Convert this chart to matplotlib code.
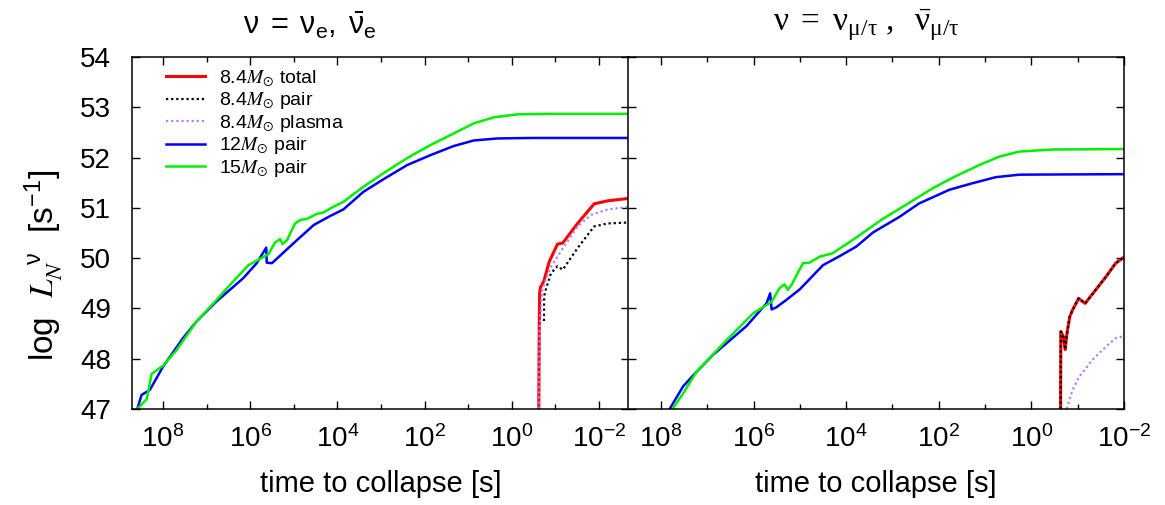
import numpy as np
import matplotlib
matplotlib.use('Agg')
import matplotlib.pyplot as plt
from matplotlib.ticker import FixedLocator, FuncFormatter, NullFormatter

plt.rcParams['font.family'] = ['Liberation Sans', 'DejaVu Sans']
plt.rcParams['mathtext.fontset'] = 'stix'

# ---- data: log10(time to collapse [s]) and log L_N ----
# left panel (nu_e, anti-nu_e)
e_12_lt = [8.75, 8.59, 8.49, 8.30, 8.00, 7.54, 7.23, 6.77, 6.16, 5.85, 5.63, 5.62, 5.50, 5.00, 4.54, 4.16, 3.86,
           3.40, 2.94, 2.40, 1.86, 1.33, 0.87, 0.33, -0.44, -2.70]
e_12_L = [46.75, 47.00, 47.28, 47.38, 47.84, 48.41, 48.74, 49.14, 49.60, 49.90, 50.21, 49.91, 49.90, 50.30, 50.66,
          50.84, 50.97, 51.32, 51.57, 51.85, 52.05, 52.23, 52.34, 52.38, 52.39, 52.39]
e_15_lt = [8.75, 8.59, 8.37, 8.26, 8.00, 7.69, 7.23, 6.77, 6.46, 6.04, 5.85, 5.58, 5.43, 5.31, 5.26, 5.16, 4.97,
           4.85, 4.70, 4.47, 4.31, 4.16, 3.86, 3.40, 2.94, 2.40, 1.86, 1.33, 0.87, 0.41, -0.13, -0.82, -2.70]
e_15_L = [46.75, 47.00, 47.20, 47.70, 47.86, 48.17, 48.74, 49.17, 49.47, 49.86, 49.95, 50.08, 50.31, 50.38, 50.28,
          50.35, 50.69, 50.76, 50.78, 50.88, 50.91, 50.99, 51.12, 51.42, 51.69, 51.99, 52.25, 52.48, 52.68, 52.80,
          52.86, 52.87, 52.87]
e_84tot_lt = [-0.620, -0.630, -0.640, -0.66, -0.68, -0.74, -0.86, -1.05, -1.17, -1.51, -1.89, -2.20, -2.70]
e_84tot_L = [46.8, 48.5, 49.3, 49.42, 49.45, 49.55, 49.93, 50.28, 50.30, 50.69, 51.08, 51.14, 51.19]
e_84pair_lt = [-0.740, -0.745, -0.78, -0.90, -1.05, -1.17, -1.51, -1.89, -2.20, -2.70]
e_84pair_L = [48.75, 49.25, 49.37, 49.70, 49.84, 49.77, 50.20, 50.63, 50.69, 50.71]
e_84pla_lt = [-0.625, -0.640, -0.70, -0.78, -0.90, -1.05, -1.20, -1.51, -1.82, -2.20, -2.70]
e_84pla_L = [46.8, 48.6, 49.35, 49.57, 49.83, 50.03, 50.23, 50.63, 50.86, 50.97, 51.02]

# right panel (nu_mu/tau, anti-nu_mu/tau)
x_12_lt = [8.00, 7.81, 7.52, 7.23, 6.87, 6.15, 5.72, 5.64, 5.61, 5.51, 5.29, 5.00, 4.50, 4.14, 3.78, 3.42, 2.85,
           2.42, 1.77, 1.27, 0.77, 0.26, -2.00]
x_12_L = [46.65, 47.00, 47.45, 47.74, 48.08, 48.65, 49.10, 49.30, 48.98, 49.02, 49.17, 49.38, 49.86, 50.04, 50.23,
          50.51, 50.82, 51.09, 51.36, 51.49, 51.61, 51.66, 51.67]
x_15_lt = [8.00, 7.75, 7.52, 7.23, 6.58, 6.01, 5.61, 5.44, 5.33, 5.26, 5.18, 4.93, 4.79, 4.57, 4.36, 4.29, 3.86,
           3.21, 2.78, 2.13, 1.70, 1.13, 0.69, 0.26, -0.45, -2.00]
x_15_L = [46.55, 47.00, 47.31, 47.74, 48.37, 48.90, 49.13, 49.40, 49.48, 49.37, 49.47, 49.90, 49.91, 50.03, 50.08,
          50.10, 50.36, 50.78, 51.02, 51.39, 51.60, 51.85, 52.02, 52.12, 52.16, 52.17]
x_84tot_lt = [-0.630, -0.636, -0.69, -0.73, -0.76, -0.78, -0.83, -0.89, -1.02, -1.16, -1.39, -1.61, -1.82, -2.00]
x_84tot_L = [46.8, 48.54, 48.44, 48.18, 48.44, 48.57, 48.84, 48.97, 49.20, 49.10, 49.37, 49.63, 49.90, 50.02]
x_84pair_lt = x_84tot_lt
x_84pair_L = x_84tot_L
x_84pla_lt = [-0.74, -0.76, -0.89, -1.03, -1.32, -1.61, -1.82, -2.00]
x_84pla_L = [46.7, 47.00, 47.38, 47.64, 47.98, 48.24, 48.41, 48.45]

xlims = [(10**8.71, 10**-2.69), (10**8.71, 1e-2)]

red = '#ff0000'
purple = '#b080ff'
blue = '#0000ff'
green = '#00f000'

fig = plt.figure(figsize=(11.65, 5.05), dpi=100)
ax1 = fig.add_axes([132/1165, 96/505, 497/1165, 352/505])
ax2 = fig.add_axes([628/1165, 96/505, 496/1165, 352/505])

panels = [
    (ax1, e_84tot_lt, e_84tot_L, e_84pair_lt, e_84pair_L, e_84pla_lt, e_84pla_L, e_12_lt, e_12_L, e_15_lt, e_15_L),
    (ax2, x_84tot_lt, x_84tot_L, x_84pair_lt, x_84pair_L, x_84pla_lt, x_84pla_L, x_12_lt, x_12_L, x_15_lt, x_15_L),
]

for i, (ax, tlt, tL, plt_, pL, qlt, qL, blt, bL, glt, gL) in enumerate(panels):
    ax.plot(10**np.array(tlt), tL, color=red, lw=2.2, label=r'8.4$M_{\odot}$ total')
    ax.plot(10**np.array(plt_), pL, color='black', lw=1.6, linestyle=(0, (1, 1.3)), label=r'8.4$M_{\odot}$ pair')
    ax.plot(10**np.array(qlt), qL, color=purple, lw=1.6, linestyle=(0, (1, 1.3)), label=r'8.4$M_{\odot}$ plasma')
    ax.plot(10**np.array(blt), bL, color=blue, lw=1.8, label=r'12$M_{\odot}$ pair')
    ax.plot(10**np.array(glt), gL, color=green, lw=1.8, label=r'15$M_{\odot}$ pair')

    ax.set_xscale('log')
    ax.set_xlim(*xlims[i])
    ax.set_ylim(47, 54)
    ax.xaxis.set_major_locator(FixedLocator([1e8, 1e6, 1e4, 1e2, 1e0, 1e-2]))
    ax.xaxis.set_minor_locator(FixedLocator([1e7, 1e5, 1e3, 1e1, 1e-1]))
    ax.xaxis.set_major_formatter(FuncFormatter(lambda v, p: r'$\mathregular{10^{%d}}$' % round(np.log10(v))))
    ax.xaxis.set_minor_formatter(NullFormatter())
    ax.set_yticks(range(47, 55))
    ax.tick_params(which='both', direction='in', top=True, right=True, labelsize=20)
    ax.tick_params(axis='x', pad=12)
    ax.tick_params(axis='y', pad=15)
    ax.tick_params(which='major', length=6, width=1)
    ax.tick_params(which='minor', length=3.5, width=1)
    for s in ax.spines.values():
        s.set_linewidth(1.1)
    ax.set_xlabel('time to collapse [s]', fontsize=21, labelpad=12)

ax2.tick_params(axis='y', labelleft=False)
ax1.set_ylabel(r'log  $L_{N}^{\ \ \mathregular{\nu}}$  [s$^{\mathregular{-1}}$]', fontsize=24)
ax1.yaxis.set_label_coords(-0.135, 0.41)

fig.text(310/1165, 1 - 25/505, r'$\mathregular{\nu\ =\ \nu_e,\ \bar{\nu}_e}$', fontsize=22,
         ha='center', va='center')
fig.text(866/1165, 1 - 25/505, r'$\mathregular{\nu\ =\ \nu_{\mu/\tau}\ ,\ \ \bar{\nu}_{\mu/\tau}}$', fontsize=24,
         ha='center', va='center', family='Liberation Serif')

ax1.legend(loc='upper left', bbox_to_anchor=(0.045, 1.0), frameon=False, fontsize=14,
           handlelength=2.0, handletextpad=0.7, labelspacing=0.08, borderaxespad=0.2)

fig.savefig('out.png', dpi=100)
